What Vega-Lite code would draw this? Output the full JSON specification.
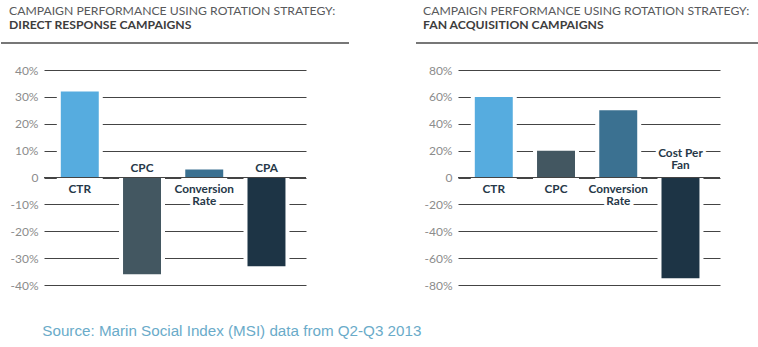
{
  "$schema": "https://vega.github.io/schema/vega-lite/v6.json",
  "padding": {"left": 0, "top": 5, "right": 0, "bottom": 0},
  "background": "white",
  "config": {
    "view": {"stroke": null},
    "font": "Lato",
    "axisY": {
      "grid": true,
      "gridColor": "#444444",
      "gridWidth": 1,
      "domain": false,
      "ticks": false,
      "labelPadding": 6,
      "labelFont": "Lato",
      "labelFontSize": 12,
      "labelColor": "#8c8c8c",
      "labelOverlap": false,
      "minExtent": 43,
      "maxExtent": 43
    },
    "title": {
      "anchor": "start",
      "frame": "group",
      "offset": 3.5,
      "font": "Lato",
      "fontSize": 12.2,
      "fontWeight": "normal",
      "color": "#58595b",
      "subtitleFont": "Lato",
      "subtitleFontSize": 12.2,
      "subtitleFontWeight": "bold",
      "subtitleColor": "#3d3d3d",
      "subtitlePadding": 2
    }
  },
  "title": {
    "text": "Source: Marin Social Index (MSI) data from Q2-Q3 2013",
    "orient": "bottom",
    "anchor": "start",
    "frame": "bounds",
    "dx": 42,
    "offset": 33,
    "font": "Liberation Sans",
    "fontSize": 15.2,
    "fontWeight": "normal",
    "color": "#6aabc9",
    "subtitle": ""
  },
  "spacing": 20,
  "vconcat": [
    {
      "spacing": 65,
      "hconcat": [
        {
          "width": 305,
          "height": 8,
          "title": {"text": "CAMPAIGN PERFORMANCE USING ROTATION STRATEGY:", "subtitle": "DIRECT RESPONSE CAMPAIGNS", "dx": -35},
          "data": {"values": [{"start": 0, "end": 1}]},
          "mark": {"type": "rule", "color": "#4a4a4a", "strokeWidth": 1.3},
          "encoding": {
            "x": {"field": "start", "type": "quantitative", "scale": {"domain": [0.12356, 1], "nice": false, "zero": false}, "axis": null},
            "x2": {"field": "end"},
            "y": {"datum": 0, "type": "quantitative", "scale": {"domain": [0, 1]}, "axis": null}
          }
        },
        {
          "width": 302,
          "height": 8,
          "title": {"text": "CAMPAIGN PERFORMANCE USING ROTATION STRATEGY:", "subtitle": "FAN ACQUISITION CAMPAIGNS", "dx": -36},
          "data": {"values": [{"start": 0, "end": 1}]},
          "mark": {"type": "rule", "color": "#4a4a4a", "strokeWidth": 1.3},
          "encoding": {
            "x": {"field": "start", "type": "quantitative", "scale": {"domain": [0.12464, 1], "nice": false, "zero": false}, "axis": null},
            "x2": {"field": "end"},
            "y": {"datum": 0, "type": "quantitative", "scale": {"domain": [0, 1]}, "axis": null}
          }
        }
      ]
    },
    {
      "spacing": 108,
      "hconcat": [
        {
          "width": 262,
          "height": 215,
          "data": {
            "values": [
              {"metric": "CTR", "value": 32},
              {"metric": "CPC", "value": -36},
              {"metric": "Conversion\nRate", "value": 3},
              {"metric": "CPA", "value": -33}
            ]
          },
          "layer": [
            {
              "mark": {"type": "bar", "fill": "white", "stroke": "white", "strokeWidth": 8},
              "encoding": {
                "x": {"field": "metric", "type": "nominal", "sort": null, "scale": {"paddingInner": 0.39, "paddingOuter": 0.3, "align": 0.45}, "axis": null},
                "y": {"field": "value", "type": "quantitative", "scale": {"domain": [-40, 40], "nice": false},
                  "axis": {"values": [-40, -30, -20, -10, 0, 10, 20, 30, 40], "labelExpr": "datum.value == 0 ? '0' : datum.value + '%'", "title": null}}
              }
            },
            {
              "mark": {"type": "bar"},
              "encoding": {
                "x": {"field": "metric", "type": "nominal", "sort": null, "axis": null},
                "y": {"field": "value", "type": "quantitative",
                  "axis": {"values": [-40, -30, -20, -10, 0, 10, 20, 30, 40], "labelExpr": "datum.value == 0 ? '0' : datum.value + '%'", "title": null}},
                "color": {
                  "field": "metric",
                  "type": "nominal",
                  "scale": {"domain": ["CTR", "CPC", "Conversion\nRate", "CPA", "Cost Per\nFan"], "range": ["#56acdf", "#435761", "#3b7191", "#1d3445", "#1d3445"]},
                  "legend": null
                }
              }
            },
            {
              "data": {"values": [{"z": 0}]},
              "mark": {"type": "rule", "color": "#444444", "strokeWidth": 1},
              "encoding": {"y": {"field": "z", "type": "quantitative",
                "axis": {"values": [-40, -30, -20, -10, 0, 10, 20, 30, 40], "labelExpr": "datum.value == 0 ? '0' : datum.value + '%'", "title": null}}}
            },
            {
              "transform": [{"filter": "datum.value >= 0"}],
              "mark": {"type": "text", "baseline": "top", "dy": 6, "lineBreak": "\n", "lineHeight": 12, "font": "Lato", "fontSize": 11.8, "fontWeight": "bold", "fill": "white", "stroke": "white", "strokeWidth": 6},
              "encoding": {"x": {"field": "metric", "type": "nominal", "sort": null, "axis": null}, "y": {"datum": 0, "type": "quantitative",
                "axis": {"values": [-40, -30, -20, -10, 0, 10, 20, 30, 40], "labelExpr": "datum.value == 0 ? '0' : datum.value + '%'", "title": null}}, "text": {"field": "metric"}}
            },
            {
              "transform": [{"filter": "datum.value >= 0"}],
              "mark": {"type": "text", "baseline": "top", "dy": 6, "lineBreak": "\n", "lineHeight": 12, "font": "Lato", "fontSize": 11.8, "fontWeight": "bold", "color": "#263848"},
              "encoding": {"x": {"field": "metric", "type": "nominal", "sort": null, "axis": null}, "y": {"datum": 0, "type": "quantitative",
                "axis": {"values": [-40, -30, -20, -10, 0, 10, 20, 30, 40], "labelExpr": "datum.value == 0 ? '0' : datum.value + '%'", "title": null}}, "text": {"field": "metric"}}
            },
            {
              "transform": [{"filter": "datum.value < 0"}],
              "mark": {"type": "text", "baseline": "bottom", "dy": -4, "lineBreak": "\n", "lineHeight": 12, "font": "Lato", "fontSize": 11.8, "fontWeight": "bold", "fill": "white", "stroke": "white", "strokeWidth": 6},
              "encoding": {"x": {"field": "metric", "type": "nominal", "sort": null, "axis": null}, "y": {"datum": 0, "type": "quantitative",
                "axis": {"values": [-40, -30, -20, -10, 0, 10, 20, 30, 40], "labelExpr": "datum.value == 0 ? '0' : datum.value + '%'", "title": null}}, "text": {"field": "metric"}}
            },
            {
              "transform": [{"filter": "datum.value < 0"}],
              "mark": {"type": "text", "baseline": "bottom", "dy": -4, "lineBreak": "\n", "lineHeight": 12, "font": "Lato", "fontSize": 11.8, "fontWeight": "bold", "color": "#263848"},
              "encoding": {"x": {"field": "metric", "type": "nominal", "sort": null, "axis": null}, "y": {"datum": 0, "type": "quantitative",
                "axis": {"values": [-40, -30, -20, -10, 0, 10, 20, 30, 40], "labelExpr": "datum.value == 0 ? '0' : datum.value + '%'", "title": null}}, "text": {"field": "metric"}}
            }
          ]
        },
        {
          "width": 262,
          "height": 215,
          "data": {
            "values": [
              {"metric": "CTR", "value": 60},
              {"metric": "CPC", "value": 20},
              {"metric": "Conversion\nRate", "value": 50},
              {"metric": "Cost Per\nFan", "value": -75}
            ]
          },
          "layer": [
            {
              "mark": {"type": "bar", "fill": "white", "stroke": "white", "strokeWidth": 8},
              "encoding": {
                "x": {"field": "metric", "type": "nominal", "sort": null, "scale": {"paddingInner": 0.39, "paddingOuter": 0.3, "align": 0.45}, "axis": null},
                "y": {"field": "value", "type": "quantitative", "scale": {"domain": [-80, 80], "nice": false},
                  "axis": {"values": [-80, -60, -40, -20, 0, 20, 40, 60, 80], "labelExpr": "datum.value == 0 ? '0' : datum.value + '%'", "title": null}}
              }
            },
            {
              "mark": {"type": "bar"},
              "encoding": {
                "x": {"field": "metric", "type": "nominal", "sort": null, "axis": null},
                "y": {"field": "value", "type": "quantitative",
                  "axis": {"values": [-80, -60, -40, -20, 0, 20, 40, 60, 80], "labelExpr": "datum.value == 0 ? '0' : datum.value + '%'", "title": null}},
                "color": {
                  "field": "metric",
                  "type": "nominal",
                  "scale": {"domain": ["CTR", "CPC", "Conversion\nRate", "CPA", "Cost Per\nFan"], "range": ["#56acdf", "#435761", "#3b7191", "#1d3445", "#1d3445"]},
                  "legend": null
                }
              }
            },
            {
              "data": {"values": [{"z": 0}]},
              "mark": {"type": "rule", "color": "#444444", "strokeWidth": 1},
              "encoding": {"y": {"field": "z", "type": "quantitative",
                "axis": {"values": [-80, -60, -40, -20, 0, 20, 40, 60, 80], "labelExpr": "datum.value == 0 ? '0' : datum.value + '%'", "title": null}}}
            },
            {
              "transform": [{"filter": "datum.value >= 0"}],
              "mark": {"type": "text", "baseline": "top", "dy": 6, "lineBreak": "\n", "lineHeight": 12, "font": "Lato", "fontSize": 11.8, "fontWeight": "bold", "fill": "white", "stroke": "white", "strokeWidth": 6},
              "encoding": {"x": {"field": "metric", "type": "nominal", "sort": null, "axis": null}, "y": {"datum": 0, "type": "quantitative",
                "axis": {"values": [-80, -60, -40, -20, 0, 20, 40, 60, 80], "labelExpr": "datum.value == 0 ? '0' : datum.value + '%'", "title": null}}, "text": {"field": "metric"}}
            },
            {
              "transform": [{"filter": "datum.value >= 0"}],
              "mark": {"type": "text", "baseline": "top", "dy": 6, "lineBreak": "\n", "lineHeight": 12, "font": "Lato", "fontSize": 11.8, "fontWeight": "bold", "color": "#263848"},
              "encoding": {"x": {"field": "metric", "type": "nominal", "sort": null, "axis": null}, "y": {"datum": 0, "type": "quantitative",
                "axis": {"values": [-80, -60, -40, -20, 0, 20, 40, 60, 80], "labelExpr": "datum.value == 0 ? '0' : datum.value + '%'", "title": null}}, "text": {"field": "metric"}}
            },
            {
              "transform": [{"filter": "datum.value < 0"}],
              "mark": {"type": "text", "baseline": "bottom", "dy": -19, "lineBreak": "\n", "lineHeight": 12, "font": "Lato", "fontSize": 11.8, "fontWeight": "bold", "fill": "white", "stroke": "white", "strokeWidth": 6},
              "encoding": {"x": {"field": "metric", "type": "nominal", "sort": null, "axis": null}, "y": {"datum": 0, "type": "quantitative",
                "axis": {"values": [-80, -60, -40, -20, 0, 20, 40, 60, 80], "labelExpr": "datum.value == 0 ? '0' : datum.value + '%'", "title": null}}, "text": {"field": "metric"}}
            },
            {
              "transform": [{"filter": "datum.value < 0"}],
              "mark": {"type": "text", "baseline": "bottom", "dy": -19, "lineBreak": "\n", "lineHeight": 12, "font": "Lato", "fontSize": 11.8, "fontWeight": "bold", "color": "#263848"},
              "encoding": {"x": {"field": "metric", "type": "nominal", "sort": null, "axis": null}, "y": {"datum": 0, "type": "quantitative",
                "axis": {"values": [-80, -60, -40, -20, 0, 20, 40, 60, 80], "labelExpr": "datum.value == 0 ? '0' : datum.value + '%'", "title": null}}, "text": {"field": "metric"}}
            }
          ]
        }
      ]
    }
  ]
}
